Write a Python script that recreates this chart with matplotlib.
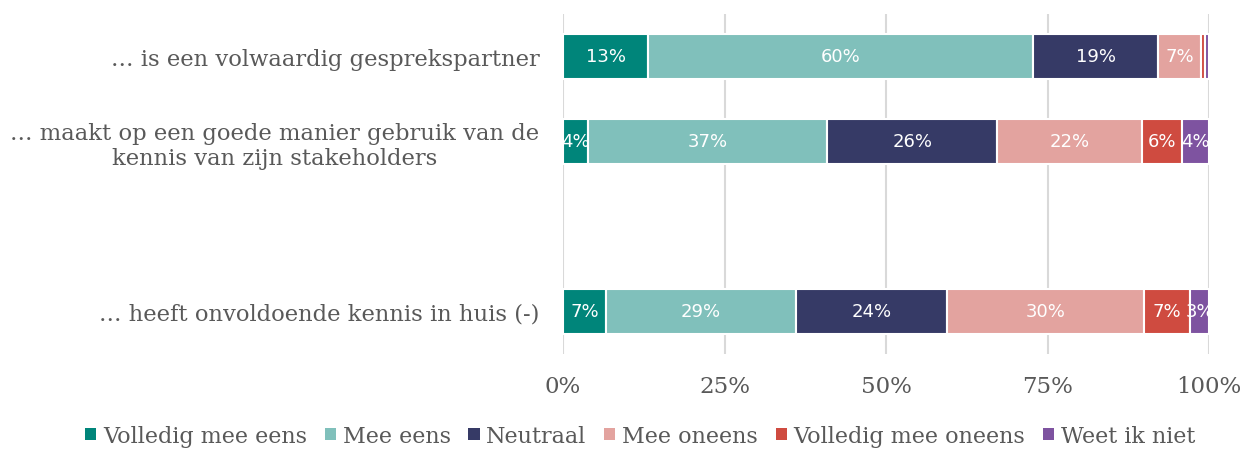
import matplotlib.pyplot as plt
from matplotlib.patches import Patch
import numpy as np

# data (percent)
categories = [
    "… is een volwaardig gesprekspartner",
    "… maakt op een goede manier gebruik van de\nkennis van zijn stakeholders",
    "",
    "… heeft onvoldoende kennis in huis (-)",
]
series = ["Volledig mee eens", "Mee eens", "Neutraal", "Mee oneens",
          "Volledig mee oneens", "Weet ik niet"]
volledig_eens = [13.2, 3.9, 0.0, 6.6]
mee_eens = [59.6, 37.0, 0.0, 29.4]
neutraal = [19.3, 26.3, 0.0, 23.5]
mee_oneens = [6.6, 22.4, 0.0, 30.4]
volledig_oneens = [0.6, 6.2, 0.0, 7.2]
weet_niet = [0.7, 4.2, 0.0, 2.9]
colors = ["#00857A", "#80C0BB", "#363A66", "#E3A39F", "#CF4B40", "#7E53A0"]
xticks = [0, 25, 50, 75, 100]

values = [volledig_eens, mee_eens, neutraal, mee_oneens, volledig_oneens, weet_niet]
grey = "#595959"

fig = plt.figure(figsize=(12.43, 4.52), dpi=100)
ax = fig.add_axes([0.453, 0.2146, 0.5197, 0.7524])

y = np.arange(len(categories))
left = np.zeros(len(categories))
for vals, col, name in zip(values, colors, series):
    vals = np.array(vals)
    keep = vals > 0
    bars = ax.barh(y[keep], vals[keep], left=left[keep], height=0.53, color=col,
                   edgecolor="white", linewidth=1.5, label=name, zorder=3)
    for b, v in zip(bars, vals[keep]):
        if v >= 1.5:
            ax.text(b.get_x() + b.get_width() / 2, b.get_y() + b.get_height() / 2,
                    f"{round(v):.0f}%", ha="center", va="center", color="white",
                    fontsize=13, family="DejaVu Sans", zorder=4)
    left += vals

ax.set_ylim(len(categories) - 0.5, -0.5)
ax.set_xlim(0, 100)
ax.set_yticks(y)
ax.set_yticklabels(categories, fontsize=16.3, family="DejaVu Serif", color=grey,
                   multialignment="center")
ax.set_xticks(xticks)
ax.set_xticklabels([f"{t}%" for t in xticks], fontsize=16.5, family="DejaVu Serif",
                   color=grey)
ax.tick_params(axis="y", length=0, pad=17)
ax.tick_params(axis="x", length=0, pad=15)
ax.grid(axis="x", color="#D9D9D9", linewidth=1.5, zorder=0)
for s in ax.spines.values():
    s.set_visible(False)

handles = [Patch(facecolor=c, label=n) for c, n in zip(colors, series)]
fig.legend(handles=handles, loc="lower center", ncol=6, frameon=False,
           bbox_to_anchor=(0.515, -0.035), prop={"family": "DejaVu Serif", "size": 16},
           labelcolor=grey, handlelength=0.5, handleheight=0.5, handletextpad=0.3,
           columnspacing=0.8)

fig.savefig("out.png", dpi=100)
